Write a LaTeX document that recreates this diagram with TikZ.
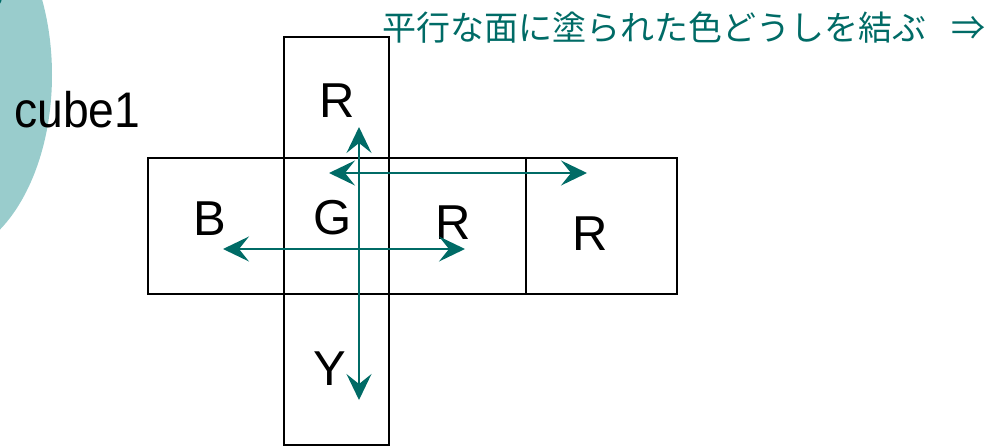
\documentclass[tikz,border=0pt]{standalone}
\usepackage{fontspec}
\setmainfont{Liberation Sans}
\newfontfamily\jpfont{Noto Sans CJK JP}
\usetikzlibrary{arrows.meta}
\definecolor{teal1}{HTML}{006B66}
\definecolor{lightteal}{HTML}{99CCCC}
\begin{document}
\begin{tikzpicture}[x=1pt,y=-1pt,
  cell/.style={draw=black,line width=1.2pt,minimum width=#1,inner sep=0pt},
  lbl/.style={font=\fontsize{49}{49}\selectfont,text=black},
  conn/.style={draw=teal1,line width=1.8pt,{Stealth[length=26pt,width=25pt,inset=10pt]}-{Stealth[length=26pt,width=25pt,inset=10pt]}}]
\useasboundingbox (0,0) rectangle (995,447);
\fill[lightteal] (-60,75) ellipse [x radius=112, y radius=183];
\fill[teal1] (-22,-8) circle [radius=25];
\node[lbl,anchor=base west,font=\fontsize{50}{50}\selectfont,xscale=0.925,inner sep=0pt] (cube) at (14,127) {cube1};
\node[anchor=base west,text=teal1,inner sep=0pt] (title) at (382,40) {\jpfont\fontsize{34}{34}\selectfont 平行な面に塗られた色どうしを結ぶ\hspace{25pt}⇒};
% cells
\node[cell=105pt,minimum height=121pt] (top) at (336.5,97.5) {};
\node[cell=136pt,minimum height=136pt] (b) at (216,226) {};
\node[cell=105pt,minimum height=136pt] (g) at (336.5,226) {};
\node[cell=137pt,minimum height=136pt] (r1) at (457.5,226) {};
\node[cell=151pt,minimum height=136pt] (r2) at (601.5,226) {};
\node[cell=105pt,minimum height=151pt] (y) at (336.5,369.5) {};
% labels
\node[lbl] (lt) at (337,101) {R};
\node[lbl] (lb) at (210,219) {B};
\node[lbl] (lg) at (333,218) {G};
\node[lbl] (lr1) at (453,223) {R};
\node[lbl] (lr2) at (590,234) {R};
\node[lbl] (ly) at (330,369) {Y};
% arrow ends
\coordinate (vt) at (359,127);
\coordinate (vb) at (359,400);
\coordinate (h1l) at (329,173);
\coordinate (h1r) at (587,173);
\coordinate (h2l) at (223,249);
\coordinate (h2r) at (465,249);
\draw[conn] (h1l) -- (h1r);
\draw[conn] (h2l) -- (h2r);
\draw[conn] (vt) -- (vb);
\end{tikzpicture}
\end{document}
